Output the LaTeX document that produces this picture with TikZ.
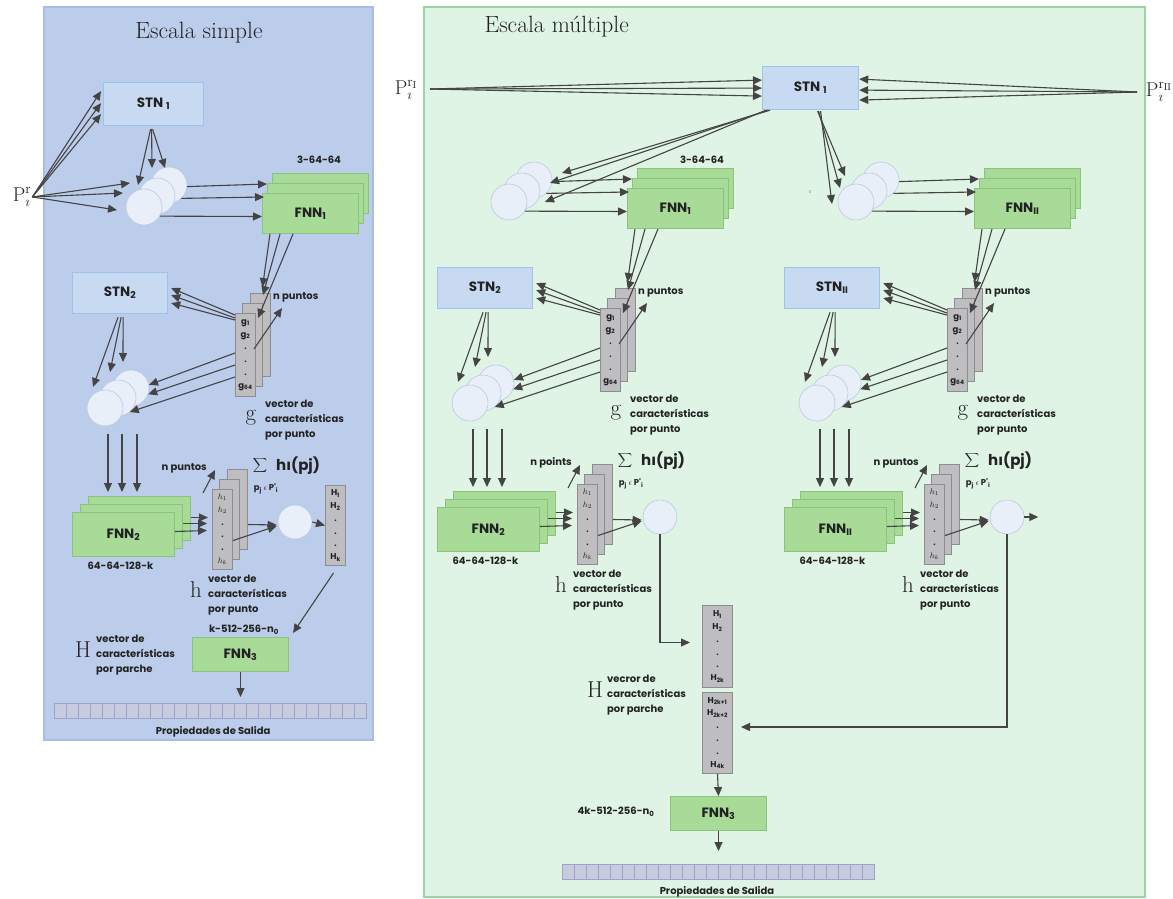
\documentclass[tikz,border=0pt]{standalone}
\usepackage{fontspec}
\usetikzlibrary{arrows.meta,calc}
\newfontfamily\labfont{Poppins}

\definecolor{panelB}{HTML}{BCCDEB}
\definecolor{panelBline}{HTML}{A6BEE6}
\definecolor{panelG}{HTML}{DFF4E4}
\definecolor{panelGline}{HTML}{97D5A3}
\definecolor{stnFill}{HTML}{C8D9F2}
\definecolor{stnLine}{HTML}{9DC2EC}
\definecolor{fnnFill}{HTML}{A8DA98}
\definecolor{fnnLine}{HTML}{8AC47B}
\definecolor{plateFill}{HTML}{BEBEC1}
\definecolor{plateLine}{HTML}{8D8D90}
\definecolor{ballFill}{HTML}{E9EFF9}
\definecolor{ballLine}{HTML}{BACADF}
\definecolor{arrowC}{HTML}{444444}
\definecolor{cellFill}{HTML}{C6CBE0}
\definecolor{cellLine}{HTML}{9CA3C8}
\definecolor{ink}{HTML}{222222}

% One PointNet-style branch: input cloud, FNN_1, features g, STN_2, FNN_2, features h, pooling
% #1 name prefix, #2 STN_2 label, #3 FNN_1 label, #4 FNN_2 label, #5 text over the h stack
\newcommand\branch[5]{%
  \node[ball] (#1ka) at (169,185) {};
  \node[ball] (#1kb) at (157,196) {};
  \node[ball] (#1kc) at (144,207) {};
  \node[fnn,fnnA] (#1fa) at (272,173) {};
  \node[fnn,fnnA] (#1fb) at (267,183) {};
  \node[fnn,fnnA] (#1fc) at (262,193) {#3};
  \draw[arr] (#1ka.-5) -- ($(#1fb.north west)+(0,1)$);
  \draw[arr] (#1ka.-47) -- ($(#1fc.north west)+(2,4)$);
  \draw[arr] (#1kc.-30) -- ($(#1fc.west)+(0,3)$);
  % per-point features g
  \node[plate,gplate] (#1ga) at (250,293) {};
  \node[plate,gplate] (#1gb) at (242,303) {};
  \node[plate,gplate,platetext] (#1gc) at (235,313) {g\textsubscript{1}\\g\textsubscript{2}\\.\\.\\.\\g\textsubscript{64}};
  \draw[arr] ($(#1fc.south west)+(8,0)$) -- ($(#1ga.north)+(2,-6)$);
  \draw[arr] ($(#1fc.south west)+(18,0)$) -- ($(#1gb.north east)+(0,-8)$);
  \draw[arr] ($(#1fc.south west)+(31,0)$) -- ($(#1gc.north east)+(2,5)$);
  \node[lab,anchor=west] (#1gn) at (273,297) {n puntos};
  \coordinate (#1gt) at (282,308);
  \draw[arr] ($(#1gc.east)+(-2,-6)$) -- (#1gt);
  % second transform
  \node[stn,minimum width=95pt,minimum height=41pt] (#1s) at (72,272) {#2};
  \draw[arr] ($(#1gc.north west)+(0,2)$) -- ($(#1s.east)+(3,-5)$);
  \draw[arr] ($(#1gc.north west)+(0,5)$) -- ($(#1s.east)+(3,2)$);
  \draw[arr] ($(#1gc.north west)+(0,7)$) -- ($(#1s.east)+(3,10)$);
  \node[ball] (#1ma) at (131,388) {};
  \node[ball] (#1mb) at (118,398) {};
  \node[ball] (#1mc) at (105,408) {};
  \draw[arr] ($(#1gc.west)+(0,-2)$) -- (#1ma.10);
  \draw[arr] ($(#1gc.west)+(0,10)$) -- (#1ma.-20);
  \draw[arr] ($(#1gc.west)+(0,22)$) -- (#1mb.-50);
  \draw[arr] ($(#1s.south)+(-2,3)$) -- ($(#1mc.center)+(-12,-21)$);
  \draw[arr] ($(#1s.south)+(1,3)$) -- ($(#1mb.center)+(-8,-26)$);
  \draw[arr] ($(#1s.south)+(3,3)$) -- ($(#1ma.center)+(-8,-26)$);
  % FNN_2
  \node[fnn,fnnB] (#1ea) at (88,496) {};
  \node[fnn,fnnB] (#1eb) at (80,504) {};
  \node[fnn,fnnB] (#1ec) at (72,512) {#4};
  \draw[arr] ($(#1mc.south)+(3,8)$) -- ($(#1ea.north west)+(20,-4)$);
  \draw[arr] ($(#1mc.south)+(17,8)$) -- ($(#1ea.north west)+(34,-4)$);
  \draw[arr] ($(#1mc.south)+(32,8)$) -- ($(#1ea.north west)+(49,-4)$);
  \node[lab] (#1el) at ($(#1ec.south)+(-3,9)$) {64-64-128-k};
  % per-point features h
  \node[plate,hplate] (#1ha) at (227,469) {};
  \node[plate,hplate] (#1hb) at (219,479) {};
  \node[plate,hplate,platetext] (#1hc) at (212,489) {$h_1$\\$h_2$\\.\\.\\.\\$h_k$};
  \draw[arr] ($(#1ea.east)+(0,-1)$) -- ($(#1hc.west)+(-4,-12)$);
  \draw[arr] ($(#1eb.east)+(0,-3)$) -- ($(#1hc.west)+(-5,-6)$);
  \draw[arr] ($(#1ec.east)+(0,-3)$) -- ($(#1hc.west)+(-5,1)$);
  \node[lab,anchor=east] (#1hn) at (207,468) {#5};
  \draw[arr] ($(#1hc.north west)+(-9,4)$) -- ($(#1hb.north west)+(-4,-9)$);
  \node[text=ink,font=\fontsize{12}{14}\selectfont,inner sep=0pt] (#1sig) at (260,465) {$\displaystyle\sum$};
  \node[lab,font=\labfont\bfseries\fontsize{15}{17}\selectfont,anchor=west] (#1sh) at (276,466) {hı(pj)};
  \node[lab,font=\labfont\bfseries\fontsize{8.5}{10}\selectfont] (#1sp) at (266,489) {p\textsubscript{j} $\epsilon$ P'\textsubscript{i}};
  % symmetric pooling
  \node[ball,minimum size=34pt] (#1o) at (295,522) {};
  \draw[arr] ($(#1ha.east)+(0,15)$) -- ($(#1o.west)+(-1,3)$);
  \draw[arr] ($(#1hc.east)+(0,11)$) -- ($(#1o.west)+(-1,4)$);
  % captions
  \node[serifbig,anchor=base] (#1gs) at (251,420) {g};
  \node[lab,align=left,anchor=west] (#1gd) at (265,420) {vector de\\características\\por punto};
  \node[serifbig,anchor=base] (#1hs) at (196,597) {h};
  \node[lab,align=left,anchor=west] (#1hd) at (208,595) {vector de\\características\\por punto};
}

\begin{document}
\begin{tikzpicture}[x=1pt,y=-1pt,
  lab/.style={font=\labfont\bfseries\fontsize{10}{15}\selectfont,text=ink,inner sep=0pt},
  boxlab/.style={font=\labfont\bfseries\fontsize{13.5}{15}\selectfont,text=ink},
  serifbig/.style={font=\fontsize{23}{25}\selectfont,text=ink,inner sep=0pt},
  titlefont/.style={font=\fontsize{23.5}{26}\selectfont,text=ink},
  stn/.style={rectangle,anchor=north west,fill=stnFill,draw=stnLine,line width=1.2pt,inner sep=0pt,boxlab},
  fnn/.style={rectangle,anchor=north west,fill=fnnFill,draw=fnnLine,line width=1pt,inner sep=0pt,boxlab},
  fnnA/.style={minimum width=96pt,minimum height=40pt},
  fnnB/.style={minimum width=102pt,minimum height=44pt},
  plate/.style={rectangle,anchor=north west,fill=plateFill,draw=plateLine,line width=1pt,inner sep=0pt},
  gplate/.style={minimum width=20pt,minimum height=83pt},
  hplate/.style={minimum width=20pt,minimum height=80pt},
  platetext/.style={font=\labfont\bfseries\fontsize{8.5}{12.8}\selectfont,align=center,text=ink},
  ball/.style={circle,minimum size=36pt,inner sep=0pt,fill=ballFill,draw=ballLine,line width=0.6pt},
  arr/.style={draw=arrowC,line width=1.1pt,-{Triangle[length=9pt,width=8pt]}},
  cell/.style={fill=cellFill,draw=cellLine,line width=0.8pt},
  outbar/.style={rectangle,anchor=north west,minimum width=312pt,minimum height=15pt,inner sep=0pt}]
\useasboundingbox (0,0) rectangle (1173,899);

% ---------------- single-scale panel ----------------
\draw[fill=panelB,draw=panelBline,line width=1.5pt] (44,7) rectangle (373,740);
\node[titlefont,anchor=base] (titleS) at (199,39) {Escala simple};

\node[stn,minimum width=100pt,minimum height=43pt] (Ls1) at (103,82) {STN \textsubscript{1}};
\node[font=\fontsize{20}{22}\selectfont,text=ink,inner sep=1pt] (PL) at (22,197) {$\mathrm{P}^{\mathrm{r}}_{\imath}$};
\node[lab] (Lfl) at (319,160) {3-64-64};

\branch{L}{STN\textsubscript{2}}{FNN\textsubscript{1}}{FNN\textsubscript{2}}{n puntos}

\draw[arr] (PL.east) -- ($(Ls1.west)+(-2,-13)$);
\draw[arr] (PL.east) -- ($(Ls1.west)+(-2,-1)$);
\draw[arr] (PL.east) -- ($(Ls1.west)+(-2,10)$);
\draw[arr] (PL.east) -- ($(Lka.center)+(-39,-2)$);
\draw[arr] (PL.east) -- ($(Lkb.center)+(-34,-3)$);
\draw[arr] (PL.east) -- ($(Lkc.center)+(-27,3)$);
\draw[arr] ($(Ls1.south)+(-3,3)$) -- ($(Lkc.center)+(-6,-22)$);
\draw[arr] ($(Ls1.south)+(-2,3)$) -- ($(Lkb.center)+(-5,-28)$);
\draw[arr] ($(Ls1.south)+(-1,3)$) -- ($(Lka.center)+(-4,-17)$);

\node[plate,minimum width=20pt,minimum height=80pt,platetext] (LH) at (325,485) {H\textsubscript{1}\\H\textsubscript{2}\\.\\.\\.\\H\textsubscript{k}};
\node[fnn,minimum width=96pt,minimum height=34pt] (LF3) at (192,637) {FNN\textsubscript{3}};
\draw[arr] (Lo.east) -- (LH.west);
\draw[arr] ($(LH.south)+(-2,7)$) -- ($(LF3.north east)+(4,-4)$);
\node[lab] (LF3l) at (244,630) {k-512-256-n\textsubscript{0}};
\node[serifbig,anchor=base] (LHs) at (83,657) {H};
\node[lab,align=left,anchor=west] (LHd) at (96,655) {vector de\\características\\por parche};

\node[outbar] (Lbar) at (54,703) {};
\foreach \i in {0,...,25} \draw[cell] ($(Lbar.north west)+(\i*12,0)$) rectangle ++(12,15);
\draw[arr,shorten >=6pt] (LF3.south) -- (LF3.south |- Lbar.north);
\node[lab] (Lout) at ($(Lbar.south)+(3,13)$) {Propiedades de Salida};

% ---------------- multi-scale panel ----------------
\draw[fill=panelG,draw=panelGline,line width=1.5pt] (424,7) rectangle (1145,897);
\node[titlefont,anchor=base west] (titleM) at (481,33) {Escala múltiple};

\node[stn,minimum width=96pt,minimum height=43pt] (Rs1) at (762,66) {STN \textsubscript{1}};
\node[font=\fontsize{20}{22}\selectfont,text=ink,inner sep=0pt] (PL2) at (406,90) {$\mathrm{P}^{\mathrm{r}_{\mathrm{I}}}_{\imath}$};
\node[font=\fontsize{20}{22}\selectfont,text=ink,inner sep=0pt] (PR2) at (1159,92) {$\mathrm{P}^{\mathrm{r}_{\mathrm{II}}}_{\imath}$};
\coordinate (inL) at (430,89);
\coordinate (inR) at (1137,92);

\begin{scope}[shift={(365,-5)}]
\branch{I}{STN\textsubscript{2}}{FNN\textsubscript{1}}{FNN\textsubscript{2}}{n points}
\end{scope}
\begin{scope}[shift={(712,-5)}]
\branch{II}{STN\textsubscript{II}}{FNN\textsubscript{II}}{FNN\textsubscript{II}}{n puntos}
\end{scope}
\node[lab] (Ifl) at (702,160) {3-64-64};
\node[text=ink!60,font=\fontsize{7}{8}\selectfont,inner sep=0pt] (stray) at (810,192) {$\imath$};

\draw[arr] (inL) -- ($(Rs1.west)+(0,-8)$);
\draw[arr] (inL) -- ($(Rs1.west)+(0,0)$);
\draw[arr] (inL) -- ($(Rs1.west)+(0,8)$);
\draw[arr] (inR) -- ($(Rs1.east)+(0,-9)$);
\draw[arr] (inR) -- ($(Rs1.east)+(0,2)$);
\draw[arr] (inR) -- ($(Rs1.east)+(0,12)$);

\draw[arr] ($(Rs1.south west)+(8,0)$) -- ($(Ika.center)+(28,-7)$);
\draw[arr] ($(Rs1.south west)+(6,0)$) -- ($(Ika.center)+(16,3)$);
\draw[arr] ($(Rs1.south west)+(4,0)$) -- ($(Ika.center)+(11,22)$);
\draw[arr] ($(Rs1.south)+(7,1)$) -- ($(IIkc.center)+(-11,-26)$);
\draw[arr] ($(Rs1.south)+(8,1)$) -- ($(IIkc.center)+(-16,-14)$);
\draw[arr] ($(Rs1.south)+(10,1)$) -- ($(IIkc.center)+(-24,2)$);

% concatenated patch features
\node[plate,minimum width=30pt,minimum height=82pt,platetext] (RHa) at (702,605) {H\textsubscript{1}\\H\textsubscript{2}\\.\\.\\.\\H\textsubscript{2k}};
\node[plate,minimum width=30pt,minimum height=81pt,platetext] (RHb) at (702,692) {H\textsubscript{2k+1}\\H\textsubscript{2k+2}\\.\\.\\.\\H\textsubscript{4k}};
\draw[arr] (Io.south) |- ($(RHa.west)+(-12,-4)$);
\draw[arr] (IIo.south) |- ($(RHb.east)+(8,-6)$);
\coordinate (IIout) at ($(IIo.east)+(14,0)$);
\draw[arr] (IIo.east) -- (IIout);
\node[serifbig,anchor=base] (RHs) at (595,697) {H};
\node[lab,align=left,anchor=west] (RHd) at (607,695) {vecror de\\características\\por parche};

\node[fnn,minimum width=96pt,minimum height=34pt] (RF3) at (670,796) {FNN\textsubscript{3}};
\draw[arr] (RHb.south) -- (RF3.north);
\node[lab] (RF3l) at (616,812) {4k-512-256-n\textsubscript{0}};
\node[outbar] (Rbar) at (562,864) {};
\foreach \i in {0,...,25} \draw[cell] ($(Rbar.north west)+(\i*12,0)$) rectangle ++(12,15);
\draw[arr,shorten >=13pt] (RF3.south) -- (RF3.south |- Rbar.north);
\node[lab] (Rout) at (717,892) {Propiedades de Salida};
\end{tikzpicture}
\end{document}
